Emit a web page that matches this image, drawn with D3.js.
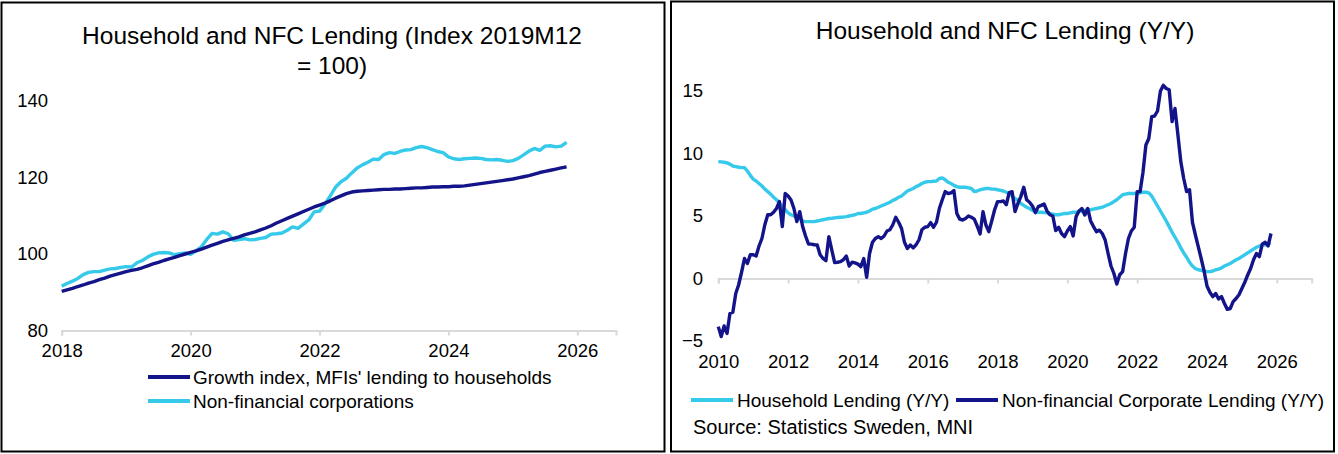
<!DOCTYPE html>
<html>
<head>
<meta charset="utf-8">
<script src="https://cdn.jsdelivr.net/npm/d3@7"></script>
<style>
  body { margin: 0; background: #fff; }
  svg { display: block; font-family: "Liberation Sans", Arial, sans-serif; }
</style>
</head>
<body>
<svg id="chart" width="1338" height="454"></svg>
<script>
// ---- data: left panel, index 2019M12 = 100, monthly from 2018-01
const leftStartYear = 2018;
const householdIndex = [
  90.2, 90.6, 91.0, 91.5, 91.9, 92.4, 92.8, 93.3, 93.7, 94.2, 94.6, 95.0,
  95.4, 95.7, 96.0, 96.4, 96.9, 97.4, 97.8, 98.3, 98.7, 99.1, 99.6, 100.0,
  100.4, 100.8, 101.3, 101.8, 102.3, 102.8, 103.3, 103.7, 104.1, 104.5, 105.0, 105.4,
  105.8, 106.3, 106.8, 107.4, 108.1, 108.7, 109.3, 109.9, 110.5, 111.1, 111.7, 112.3,
  112.8, 113.3, 113.9, 114.6, 115.2, 115.8, 116.2, 116.4, 116.5, 116.6, 116.7, 116.8,
  116.9, 116.9, 117.0, 117.0, 117.1, 117.2, 117.3, 117.3, 117.4, 117.5, 117.5, 117.6,
  117.6, 117.7, 117.7, 117.8, 118.0, 118.2, 118.4, 118.6, 118.8, 119.0, 119.2, 119.4,
  119.6, 119.9, 120.2, 120.5, 120.9, 121.3, 121.6, 121.9, 122.2, 122.5, 122.8
];
const nfcIndex = [
  91.6, 92.3, 92.9, 93.6, 94.6, 95.2, 95.4, 95.4, 95.8, 96.1, 96.2, 96.5,
  96.7, 96.6, 97.7, 98.3, 99.2, 99.9, 100.3, 100.4, 100.3, 99.8, 100.1, 100.3,
  99.9, 100.8, 101.9, 103.8, 105.4, 105.2, 105.8, 105.3, 103.6, 103.8, 104.0, 103.7,
  103.8, 104.1, 104.3, 105.2, 105.3, 105.5, 106.2, 107.1, 106.7, 107.8, 108.9, 111.0,
  111.2, 113.0, 115.2, 117.5, 118.9, 119.8, 121.2, 122.5, 123.3, 124.0, 124.8, 124.7,
  126.0, 126.5, 126.3, 126.8, 127.2, 127.3, 127.8, 128.1, 127.8, 127.3, 126.8, 126.5,
  125.4, 124.9, 124.7, 124.9, 125.0, 125.1, 125.0, 124.7, 124.6, 124.7, 124.5, 124.2,
  124.4, 125.0, 125.9, 126.9, 127.6, 127.1, 128.2, 128.3, 128.0, 128.2, 129.2
];
const leftYearTicks = [2018, 2020, 2022, 2024, 2026];
const leftValueTicks = [80, 100, 120, 140];

// ---- data: right panel, Y/Y %, monthly from 2010-01
const rightStartYear = 2010;
const householdYoY = [
  9.35, 9.33, 9.3, 9.25, 9.15, 9.0, 8.95, 8.9, 8.88, 8.87, 8.6, 8.25,
  7.95, 7.8, 7.6, 7.4, 7.15, 6.95, 6.75, 6.5, 6.3, 6.05, 5.8, 5.5,
  5.25, 5.1, 5.0, 4.85, 4.75, 4.6, 4.55, 4.55, 4.55, 4.55, 4.6, 4.65,
  4.7, 4.75, 4.8, 4.82, 4.85, 4.88, 4.9, 4.92, 4.95, 5.0, 5.05, 5.1,
  5.2, 5.2, 5.25, 5.3, 5.4, 5.55, 5.6, 5.7, 5.8, 5.9, 6.0, 6.1,
  6.25, 6.35, 6.5, 6.6, 6.8, 7.0, 7.1, 7.2, 7.35, 7.45, 7.6, 7.7,
  7.75, 7.75, 7.78, 7.8, 8.0, 8.05, 7.9, 7.7, 7.6, 7.45, 7.35, 7.3,
  7.3, 7.3, 7.25, 7.2, 6.95, 7.0, 7.1, 7.15, 7.2, 7.2, 7.15, 7.15,
  7.1, 7.05, 7.0, 6.9, 6.8, 6.6, 6.4, 6.25, 6.0, 5.85, 5.7, 5.6,
  5.45, 5.35, 5.3, 5.3, 5.27, 5.25, 5.2, 5.15, 5.1, 5.1, 5.15, 5.2,
  5.2, 5.25, 5.3, 5.3, 5.35, 5.4, 5.45, 5.48, 5.5, 5.55, 5.6, 5.65,
  5.7, 5.8, 5.9, 6.0, 6.15, 6.3, 6.5, 6.7, 6.75, 6.8, 6.8, 6.8,
  6.8, 6.85, 6.9, 6.9, 6.85, 6.6, 6.2, 5.8, 5.4, 5.0, 4.6, 4.15,
  3.7, 3.3, 2.9, 2.45, 2.05, 1.7, 1.3, 1.0, 0.8, 0.7, 0.65, 0.6,
  0.55, 0.55, 0.6, 0.7, 0.75, 0.85, 1.0, 1.1, 1.2, 1.35, 1.5, 1.6,
  1.75, 1.9, 2.05, 2.2, 2.35, 2.5, 2.6, 2.65, 2.7, 2.8, 2.85
];
const nfcYoY = [
  -3.85, -4.65, -3.8, -4.4, -2.8, -2.7, -1.2, -0.5, 0.5, 1.6, 1.2, 1.9,
  1.9, 1.8, 2.6, 3.2, 4.3, 5.1, 5.1, 5.3, 5.6, 6.15, 4.15, 6.8,
  6.6, 6.28, 5.6, 4.55, 5.35, 4.15, 3.4, 2.76, 2.75, 2.7, 2.68, 1.9,
  1.6, 1.43, 3.35, 2.3, 1.27, 1.3, 1.35, 1.5, 1.8, 1.0, 1.3, 1.25,
  1.15, 0.95, 1.6, 0.1, 2.0, 2.9, 3.2, 3.35, 3.2, 3.4, 3.8, 3.9,
  4.3, 4.9, 4.5, 4.0, 2.9, 2.4, 2.68, 2.45, 2.7, 3.1, 3.9, 4.1,
  4.15, 4.47, 4.1, 4.5, 5.6, 6.3, 6.95, 6.8, 6.85, 7.03, 5.2, 4.75,
  4.68, 4.8, 5.0, 4.9, 4.75, 4.2, 3.56, 5.35, 4.28, 3.75, 4.6, 5.5,
  6.15, 6.15, 6.2, 5.9, 6.87, 6.95, 5.35, 6.0, 6.55, 7.3, 6.3, 6.1,
  5.8, 5.27, 5.75, 5.85, 5.96, 5.4, 5.1, 5.0, 3.83, 4.1, 3.6, 3.35,
  3.8, 4.15, 3.4, 4.95, 5.4, 5.6, 5.08, 5.6, 4.6, 4.15, 3.75, 3.87,
  3.6, 3.08, 2.0, 1.0, 0.4, -0.44, 0.3, 0.55, 2.0, 3.2, 3.8, 4.1,
  6.95, 6.95, 8.5, 10.68, 11.2, 12.95, 13.0, 13.4, 15.0, 15.45, 15.2, 15.1,
  12.55, 13.6, 11.5, 9.35, 8.0, 6.95, 7.1, 4.5, 3.5, 2.55, 1.6, 0.6,
  -0.6, -1.1, -1.45, -1.2, -1.64, -1.45, -2.0, -2.47, -2.4, -1.85, -1.6, -1.3,
  -0.8, -0.3, 0.28, 0.8, 1.5, 2.0, 1.75, 2.75, 2.9, 2.6, 3.6
];
const rightYearTicks = [2010, 2012, 2014, 2016, 2018, 2020, 2022, 2024, 2026];
const rightValueTicks = [-5, 0, 5, 10, 15];

const NAVY = "#14148a";
const CYAN = "#35c9ea";
const AXIS = "#d9d9d9";

const svg = d3.select("#chart");

// monthly series -> points with decimal year
function toPoints(values, startYear) {
  return values.map(function (v, i) {
    return { t: startYear + i / 12, v: v };
  });
}

// panel frames
svg.append("rect").attr("x", 1.5).attr("y", 2.5).attr("width", 663).attr("height", 449)
  .attr("fill", "none").attr("stroke", "#000").attr("stroke-width", 2);
svg.append("rect").attr("x", 671).attr("y", 1.5).attr("width", 663).attr("height", 450)
  .attr("fill", "none").attr("stroke", "#000").attr("stroke-width", 2);

// ================= left panel =================
const xL = d3.scaleLinear().domain([2018, 2026.6]).range([61.7, 616]);
const yL = d3.scaleLinear().domain([80, 140]).range([330.5, 101]);

const left = svg.append("g");

left.append("text").attr("x", 332).attr("y", 44).attr("text-anchor", "middle")
  .style("font-size", "24.5px").text("Household and NFC Lending (Index 2019M12");
left.append("text").attr("x", 332).attr("y", 74).attr("text-anchor", "middle")
  .style("font-size", "24.5px").text("= 100)");

const yAxisL = left.append("g").attr("transform", "translate(48,0)")
  .call(d3.axisLeft(yL).tickValues(leftValueTicks).tickSize(0).tickPadding(0));
yAxisL.select(".domain").remove();
yAxisL.selectAll("text").style("font-size", "18.5px").attr("fill", "#000").style("font-family", "inherit");

const xAxisL = left.append("g").attr("transform", `translate(0,${yL(80)})`)
  .call(d3.axisBottom(xL).tickValues(leftYearTicks).tickFormat(d3.format("d")).tickSize(5).tickPadding(8));
xAxisL.select(".domain").attr("stroke", AXIS).attr("stroke-width", 2);
xAxisL.selectAll("line").attr("stroke", AXIS).attr("stroke-width", 2);
xAxisL.selectAll("text").style("font-size", "18.5px").attr("fill", "#000").style("font-family", "inherit");

const lineL = d3.line().x(function (d) { return xL(d.t); }).y(function (d) { return yL(d.v); });

left.append("path").datum(toPoints(nfcIndex, leftStartYear))
  .attr("fill", "none").attr("stroke", CYAN).attr("stroke-width", 3.4)
  .attr("stroke-linejoin", "round").attr("d", lineL);
left.append("path").datum(toPoints(householdIndex, leftStartYear))
  .attr("fill", "none").attr("stroke", NAVY).attr("stroke-width", 3.4)
  .attr("stroke-linejoin", "round").attr("d", lineL);

// left legend
const legL = [
  { name: "Growth index, MFIs' lending to households", color: NAVY },
  { name: "Non-financial corporations", color: CYAN }
];
legL.forEach(function (d, i) {
  const y = 377 + i * 24;
  left.append("line").attr("x1", 148).attr("x2", 190).attr("y1", y).attr("y2", y)
    .attr("stroke", d.color).attr("stroke-width", 4);
  left.append("text").attr("x", 193).attr("y", y).attr("dy", "0.35em")
    .style("font-size", "19px").text(d.name);
});

// ================= right panel =================
const xR = d3.scaleLinear().domain([2010, 2027]).range([718.3, 1311.7]);
const yR = d3.scaleLinear().domain([-5, 15]).range([341, 91]);

const right = svg.append("g");

right.append("text").attr("x", 1005).attr("y", 39).attr("text-anchor", "middle")
  .style("font-size", "24.5px").text("Household and NFC Lending (Y/Y)");

const yAxisR = right.append("g").attr("transform", "translate(703,0)")
  .call(d3.axisLeft(yR).tickValues(rightValueTicks).tickSize(0).tickPadding(0));
yAxisR.select(".domain").remove();
yAxisR.selectAll("text").style("font-size", "18.5px").attr("fill", "#000").style("font-family", "inherit");

const xAxisR = right.append("g").attr("transform", `translate(0,${yR(0)})`)
  .call(d3.axisBottom(xR).tickValues(rightYearTicks).tickFormat(d3.format("d")).tickSize(5).tickPadding(0));
xAxisR.select(".domain").attr("stroke", AXIS).attr("stroke-width", 2);
xAxisR.selectAll("line").attr("stroke", AXIS).attr("stroke-width", 2);
// tick labels sit below the plot, not on the zero line
xAxisR.selectAll("text").attr("y", yR(-5) - yR(0) + 14)
  .style("font-size", "18.5px").attr("fill", "#000").style("font-family", "inherit");

const lineR = d3.line().x(function (d) { return xR(d.t); }).y(function (d) { return yR(d.v); });

right.append("path").datum(toPoints(householdYoY, rightStartYear))
  .attr("fill", "none").attr("stroke", CYAN).attr("stroke-width", 3.4)
  .attr("stroke-linejoin", "round").attr("d", lineR);
right.append("path").datum(toPoints(nfcYoY, rightStartYear))
  .attr("fill", "none").attr("stroke", NAVY).attr("stroke-width", 3.4)
  .attr("stroke-linejoin", "round").attr("d", lineR);

// right legend
const legR = [
  { name: "Household Lending (Y/Y)", color: CYAN, x: 691 },
  { name: "Non-financial Corporate Lending (Y/Y)", color: NAVY, x: 956 }
];
legR.forEach(function (d) {
  right.append("line").attr("x1", d.x).attr("x2", d.x + 42).attr("y1", 400).attr("y2", 400)
    .attr("stroke", d.color).attr("stroke-width", 4);
  right.append("text").attr("x", d.x + 46).attr("y", 400).attr("dy", "0.35em")
    .style("font-size", "19px").text(d.name);
});
right.append("text").attr("x", 693).attr("y", 427).attr("dy", "0.35em")
  .style("font-size", "20px").text("Source: Statistics Sweden, MNI");
</script>
</body>
</html>
